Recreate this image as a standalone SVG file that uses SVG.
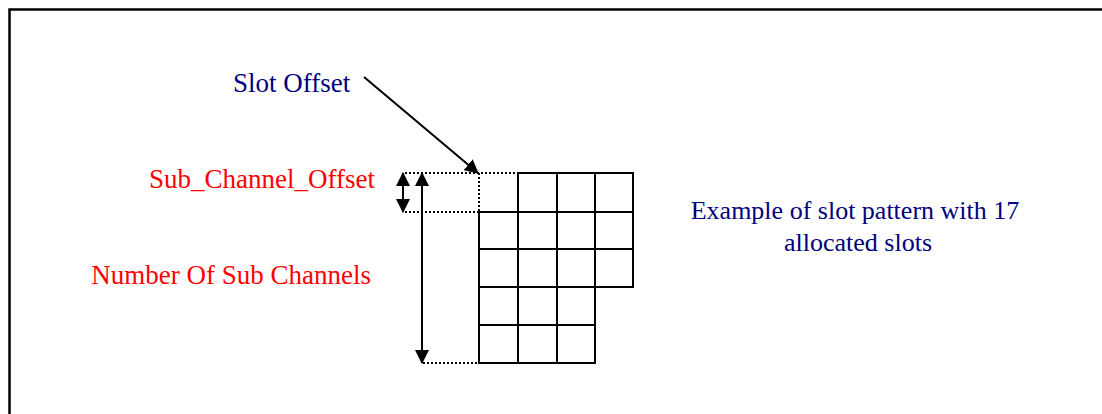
<svg xmlns="http://www.w3.org/2000/svg" width="1102" height="414" viewBox="0 0 1102 414">
<style>
.t{font-family:"Liberation Serif","Times New Roman",serif;font-size:26px}
.big{font-size:27px}
.navy{fill:#000080}
.red{fill:#ff0000}
.grid{stroke:#000;stroke-width:2;fill:none;stroke-linecap:square}
.dot{stroke:#000;stroke-width:2;fill:none;stroke-dasharray:2 2}
.arr{stroke:#000;stroke-width:2;fill:none}
</style>
<defs>
<marker id="ah" markerUnits="userSpaceOnUse" markerWidth="14" markerHeight="14" refX="12" refY="6.5" orient="auto-start-reverse" viewBox="0 0 13 13">
<path d="M0,0 L13,6.5 L0,13 z" fill="#000"/>
</marker>
</defs>
<rect width="1102" height="414" fill="#fff"/>
<g id="frame"><path d="M9.5,414 L9.5,9.5 L1102,9.5" stroke="#000" stroke-width="2.5" fill="none"/></g>
<g id="slot-grid">
<path class="grid" d="M518,173 H633 M479,212 H633 M479,249 H633 M479,287 H633 M479,325 H595 M479,363 H595 M479,212 V363 M518,173 V363 M557,173 V363 M595,173 V363 M633,173 V287"/>
<path class="dot" d="M405,173 H518 M479,173 V212 M405,212 H479 M423,363 H479"/>
</g>
<g id="connectors">
<line class="arr" x1="364" y1="77" x2="478" y2="173" marker-end="url(#ah)"/>
<line class="arr" x1="403" y1="173" x2="403" y2="212" marker-start="url(#ah)" marker-end="url(#ah)"/>
<line class="arr" x1="422" y1="173" x2="422" y2="363" marker-start="url(#ah)" marker-end="url(#ah)"/>
</g>
<g id="label-slot-offset"><text class="t big navy" x="233" y="92">Slot Offset</text></g>
<g id="label-sub-channel-offset"><text class="t big red" x="375" y="188" text-anchor="end">Sub_Channel_Offset</text></g>
<g id="label-number-sub-channels"><text class="t big red" x="371" y="284" text-anchor="end">Number Of Sub Channels</text></g>
<g id="label-example"><text class="t navy" text-anchor="middle"><tspan x="855" y="219">Example of slot pattern with 17</tspan><tspan x="858" y="251">allocated slots</tspan></text></g>
</svg>
